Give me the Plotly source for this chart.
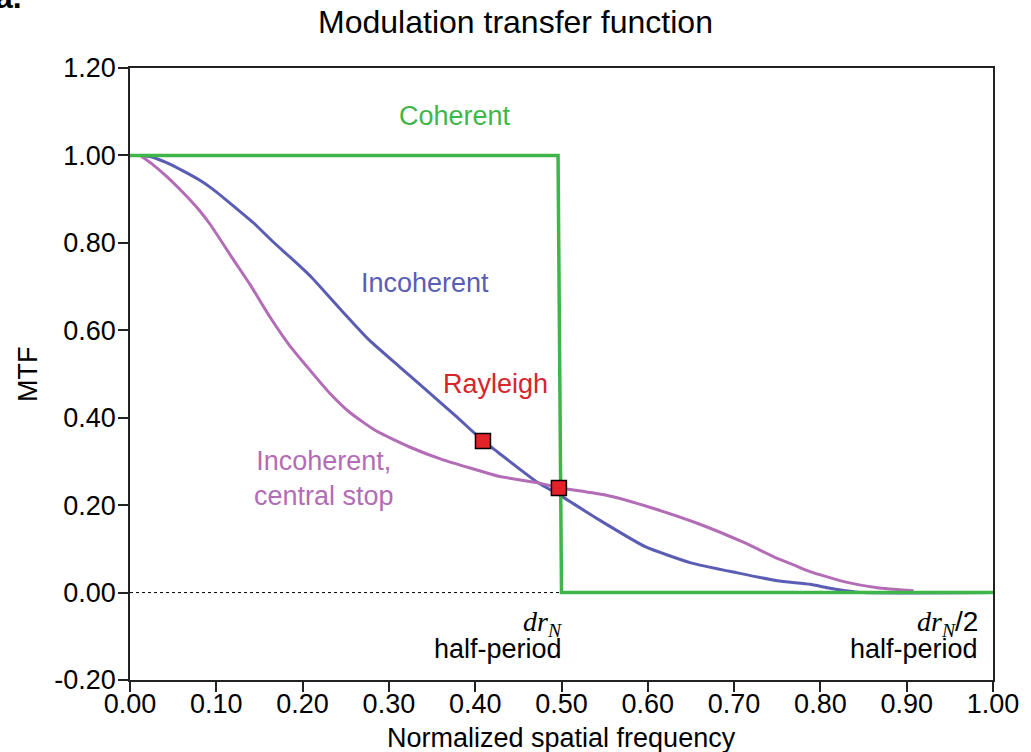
import plotly.graph_objects as go

# ---------------- data ----------------
incoh_x = [0.012, 0.024, 0.043, 0.062, 0.081, 0.101, 0.120, 0.143, 0.166, 0.189,
           0.210, 0.243, 0.277, 0.312, 0.347, 0.378, 0.408, 0.427, 0.473, 0.497,
           0.543, 0.597, 0.650, 0.704, 0.750, 0.788, 0.808, 0.827, 0.850, 1.000]
incoh_y = [1.000, 0.997, 0.983, 0.964, 0.943, 0.915, 0.884, 0.846, 0.802, 0.761,
           0.722, 0.650, 0.578, 0.517, 0.457, 0.403, 0.349, 0.320, 0.251, 0.224,
           0.167, 0.105, 0.068, 0.045, 0.027, 0.019, 0.011, 0.005, 0.000, 0.000]

stop_x = [0.012, 0.024, 0.043, 0.062, 0.081, 0.093, 0.120, 0.139, 0.162, 0.185,
          0.208, 0.231, 0.254, 0.285, 0.324, 0.362, 0.401, 0.427, 0.473, 0.497,
          0.551, 0.604, 0.658, 0.712, 0.750, 0.773, 0.788, 0.827, 0.866, 0.908]
stop_y = [1.000, 0.983, 0.951, 0.914, 0.873, 0.842, 0.761, 0.705, 0.631, 0.565,
          0.510, 0.457, 0.413, 0.370, 0.333, 0.304, 0.281, 0.266, 0.251, 0.240,
          0.223, 0.194, 0.158, 0.114, 0.078, 0.060, 0.048, 0.025, 0.011, 0.004]

coh_x = [0.0, 0.496, 0.500, 1.0]
coh_y = [1.0, 1.0, 0.0, 0.0]

rayleigh_x = [0.409, 0.497]
rayleigh_y = [0.347, 0.239]

zero_x = [0.0, 1.0]
zero_y = [0.0, 0.0]

x_ticks = [0.0, 0.1, 0.2, 0.3, 0.4, 0.5, 0.6, 0.7, 0.8, 0.9, 1.0]
x_ticktext = ["0.00", "0.10", "0.20", "0.30", "0.40", "0.50", "0.60", "0.70",
              "0.80", "0.90", "1.00"]
y_ticks = [-0.2, 0.0, 0.2, 0.4, 0.6, 0.8, 1.0, 1.2]
y_ticktext = ["-0.20", "0.00", "0.20", "0.40", "0.60", "0.80", "1.00", "1.20"]

# ---------------- style ----------------
FONT = "Liberation Sans, Arial, Helvetica, sans-serif"
SERIF = "Liberation Serif, Times New Roman, serif"
BLUE = "#5a5db3"
PURPLE = "#b36cb6"
GREEN = "#3fb64a"
RED = "#e3232a"

fig = go.Figure()
fig.add_trace(go.Scatter(x=zero_x, y=zero_y, mode="lines",
                         line=dict(color="black", width=1, dash="3px,3px"),
                         hoverinfo="skip", showlegend=False))
fig.add_trace(go.Scatter(x=incoh_x, y=incoh_y, mode="lines",
                         line=dict(color=BLUE, width=3, shape="spline", smoothing=0.5),
                         showlegend=False))
fig.add_trace(go.Scatter(x=stop_x, y=stop_y, mode="lines",
                         line=dict(color=PURPLE, width=3, shape="spline", smoothing=0.5),
                         showlegend=False))
fig.add_trace(go.Scatter(x=coh_x, y=coh_y, mode="lines",
                         line=dict(color=GREEN, width=3.5), showlegend=False))
fig.add_trace(go.Scatter(x=rayleigh_x, y=rayleigh_y, mode="markers",
                         marker=dict(symbol="square", size=15, color=RED,
                                     line=dict(color="black", width=1.5)),
                         showlegend=False))

annots = [
    dict(x=0.377, y=1.091, text="Coherent", font=dict(color=GREEN, size=27)),
    dict(x=0.342, y=0.708, text="Incoherent", font=dict(color=BLUE, size=27)),
    dict(x=0.423, y=0.477, text="Rayleigh", font=dict(color="#d6262c", size=27)),
    dict(x=0.225, y=0.262, text="Incoherent,<br>central stop",
         font=dict(color=PURPLE, size=27)),
    dict(x=0.503, y=-0.070, xanchor="right",
         text="<i>dr</i><sub><i>N</i></sub>",
         font=dict(color="black", size=28, family=SERIF)),
    dict(x=0.503, y=-0.129, xanchor="right", text="half-period",
         font=dict(color="black", size=27)),
    dict(x=0.985, y=-0.070, xanchor="right",
         text="<i>dr</i><sub><i>N</i></sub><span style='font-family:Liberation Sans'>/2</span>",
         font=dict(color="black", size=28, family=SERIF)),
    dict(x=0.985, y=-0.129, xanchor="right", text="half-period",
         font=dict(color="black", size=27)),
]
for a in annots:
    a.setdefault("xanchor", "center")
    fig.add_annotation(xref="x", yref="y", showarrow=False, yanchor="middle", **a)

# axis titles and panel letter
fig.add_annotation(xref="paper", yref="paper", x=0.5, y=-0.095, yanchor="middle",
                   text="Normalized spatial frequency", showarrow=False,
                   font=dict(size=27, color="black"))
fig.add_annotation(xref="paper", yref="paper", x=-0.1182, y=0.5, textangle=-90,
                   xanchor="center", yanchor="middle", text="MTF", showarrow=False,
                   font=dict(size=27, color="black"))
fig.add_annotation(xref="paper", yref="paper", x=-0.1494, y=1.0724, xanchor="left",
                   yanchor="bottom", xshift=-8, yshift=7, text="<b>a.</b>",
                   showarrow=False, font=dict(size=32, color="black"))

fig.update_layout(
    width=1031, height=752,
    margin=dict(l=130, r=34, t=68, b=72, pad=0),
    paper_bgcolor="white", plot_bgcolor="white",
    font=dict(family=FONT, color="black", size=27),
    title=dict(text="Modulation transfer function", x=0.5, xref="container",
               y=1 - 22 / 752, yref="container", yanchor="middle",
               font=dict(size=32, color="black")),
    showlegend=False,
)
axis_common = dict(showline=True, linecolor="#222", linewidth=1.5, mirror=True,
                   ticks="outside", ticklen=10, tickwidth=1.5, tickcolor="#222",
                   showgrid=False, zeroline=False,
                   tickfont=dict(size=27, color="black"))
fig.update_xaxes(range=[0, 1], tickvals=x_ticks, ticktext=x_ticktext,
                 ticklabelstandoff=-11, **axis_common)
fig.update_yaxes(range=[-0.2, 1.2], tickvals=y_ticks, ticktext=y_ticktext,
                 ticklabelstandoff=-3, **axis_common)

fig.write_html("out.html")
